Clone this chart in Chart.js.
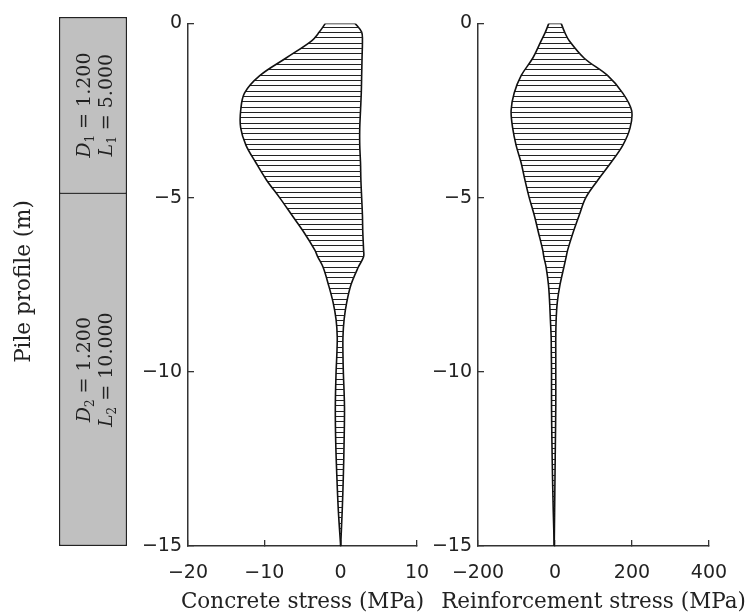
<!DOCTYPE html>
<html>
<head>
<meta charset="utf-8">
<title>Pile stress profile</title>
<script src="https://cdn.jsdelivr.net/npm/chart.js@4.4.1/dist/chart.umd.min.js"></script>
<style>
  html, body { margin: 0; padding: 0; background: #fff; }
  #wrap { position: relative; width: 753px; height: 615px; overflow: hidden; }
  canvas { position: absolute; top: 0; }
</style>
</head>
<body>
<div id="wrap">
  <canvas id="pileChart" width="150" height="615" style="left:0"></canvas>
  <canvas id="concreteChart" width="300" height="615" style="left:140px"></canvas>
  <canvas id="rebarChart" width="323" height="615" style="left:430px"></canvas>
</div>
<script>
// Pile segments (m)
const segmentTop = [0, -5];
const segmentBottom = [-5, -15];
const segmentDiam = ['1.200', '1.200'];

// Depth along the pile (m)
const depth = [0, -0.25, -0.5, -1, -1.5, -2, -2.5, -3, -3.5, -4, -4.5, -5, -5.5, -6,
               -6.5, -6.7, -7, -7.5, -8, -8.5, -9, -9.5, -10, -11, -12, -13, -14, -15];

// Concrete stress envelope (MPa)
const concreteMin = [-2.0, -2.8, -3.8, -7.2, -10.6, -12.6, -13.1, -13.1, -12.4, -11.1, -9.7, -8.0, -6.4, -4.8,
                     -3.4, -3.0, -2.3, -1.6, -1.0, -0.6, -0.45, -0.5, -0.6, -0.7, -0.65, -0.5, -0.3, 0];
const concreteMax = [1.9, 2.75, 2.85, 2.8, 2.75, 2.7, 2.6, 2.5, 2.5, 2.6, 2.65, 2.75, 2.85, 2.9,
                     3.0, 3.0, 2.3, 1.35, 0.8, 0.45, 0.3, 0.3, 0.35, 0.5, 0.45, 0.35, 0.2, 0];

// Reinforcement stress envelope (MPa)
const rebarMin = [-16, -25, -36, -58, -88, -106, -114, -110, -101, -88, -78, -67, -54, -43,
                  -32, -29, -23, -17, -14, -12, -10, -9.5, -9, -9, -8, -6.5, -4.5, -2];
const rebarMax = [16, 25, 37, 76, 137, 176, 199, 195, 176, 145, 111, 80, 63, 47,
                  33, 29, 23, 13, 6, 3, 2, 2, 2, 2, 1, 0, -1, -2];

// Tick settings
const concreteTicks = { min: -20, max: 10, step: 10 };
const rebarTicks = { min: -200, max: 400, step: 200 };
const depthTicks = { min: -15, max: 0, step: 5 };

Chart.defaults.animation = false;
Chart.defaults.color = '#222';

const tickFont = { family: 'DejaVu Sans', size: 19 };
const titleFont = { family: 'DejaVu Serif', size: 21.5 };
const axisColor = '#333';

function fmt(v) {
    return v < 0 ? '\u2212' + Math.abs(v) : String(v);
}

// Horizontal hatching used as the fill between the two envelopes
function makeHatch(canvas) {
    const c = document.createElement('canvas');
    c.width = 8;
    c.height = 16;
    const g = c.getContext('2d');
    g.fillStyle = '#222';
    [0, 5, 11].forEach(y => g.fillRect(0, y, 8, 1));
    return canvas.getContext('2d').createPattern(c, 'repeat');
}

// Axis title under the x axis, drawn without the scale's width limit
const bottomTitle = {
    id: 'bottomTitle',
    afterDraw(chart, args, opts) {
        const ctx = chart.ctx;
        const area = chart.chartArea;
        ctx.save();
        ctx.font = titleFont.size + 'px "' + titleFont.family + '"';
        ctx.fillStyle = '#222';
        ctx.textAlign = 'center';
        ctx.textBaseline = 'middle';
        ctx.fillText(opts.text, (area.left + area.right) / 2, chart.height - 13);
        ctx.restore();
    }
};

function stressAxis(t) {
    return {
        type: 'linear',
        min: t.min,
        max: t.max,
        ticks: { stepSize: t.step, padding: 22, font: tickFont, color: '#222', callback: fmt },
        grid: { drawOnChartArea: false, tickLength: -6, color: axisColor, lineWidth: 1.3 },
        border: { color: axisColor, width: 1.5 },
        afterFit: s => {
            s.height = 69;
            s.paddingLeft = 0;
            s.paddingRight = 0;
        }
    };
}

function depthAxis() {
    return {
        type: 'linear',
        min: depthTicks.min,
        max: depthTicks.max,
        ticks: { stepSize: depthTicks.step, padding: 12, font: tickFont, color: '#222', callback: fmt },
        grid: { drawOnChartArea: false, tickLength: -6, color: axisColor, lineWidth: 1.3 },
        border: { color: axisColor, width: 1.5 },
        afterFit: s => { s.width = 48; }
    };
}

function envelopeDatasets(minVals, maxVals, pattern) {
    const line = {
        borderColor: '#111',
        borderWidth: 1.6,
        pointRadius: 0,
        tension: 0.35
    };
    return [
        Object.assign({
            data: depth.map((d, i) => ({ x: minVals[i], y: d })),
            fill: '+1',
            backgroundColor: pattern
        }, line),
        Object.assign({
            data: depth.map((d, i) => ({ x: maxVals[i], y: d })),
            fill: false
        }, line),
        // flat cap at the pile head
        Object.assign({}, line, {
            data: [{ x: minVals[0], y: depth[0] }, { x: maxVals[0], y: depth[0] }],
            fill: false,
            tension: 0
        })
    ];
}

function stressChart(id, minVals, maxVals, ticks, title, rightPad) {
    const canvas = document.getElementById(id);
    return new Chart(canvas, {
        type: 'line',
        data: { datasets: envelopeDatasets(minVals, maxVals, makeHatch(canvas)) },
        options: {
            responsive: false,
            indexAxis: 'y',
            layout: { padding: { top: 17, right: rightPad, bottom: 0, left: 0 } },
            plugins: {
                legend: { display: false },
                tooltip: { enabled: false },
                bottomTitle: { text: title }
            },
            scales: {
                x: stressAxis(ticks),
                y: depthAxis()
            }
        },
        plugins: [bottomTitle]
    });
}

// Writes D and L of each pile segment, rotated, inside its bar
const pileText = {
    id: 'pileText',
    afterDatasetsDraw(chart) {
        const ctx = chart.ctx;
        chart.data.datasets.forEach((ds, i) => {
            const bar = chart.getDatasetMeta(i).data[0];
            const cx = bar.x;
            const cy = (bar.y + bar.base) / 2;
            const len = (segmentTop[i] - segmentBottom[i]).toFixed(3);
            ctx.save();
            ctx.translate(cx, cy);
            ctx.rotate(-Math.PI / 2);
            drawRich(ctx, 'D', String(i + 1), ' = ' + segmentDiam[i], -3);
            drawRich(ctx, 'L', String(i + 1), ' = ' + len, 19);
            ctx.restore();
        });
    }
};

function drawRich(ctx, letter, sub, rest, baseY) {
    const fMain = '19px "DejaVu Serif"';
    const fItal = 'italic 19px "DejaVu Serif"';
    const fSub = '12px "DejaVu Serif"';
    ctx.font = fItal;
    const wL = ctx.measureText(letter).width;
    ctx.font = fSub;
    const wS = ctx.measureText(sub).width;
    ctx.font = fMain;
    const wR = ctx.measureText(rest).width;
    let x = -(wL + wS + wR) / 2;
    ctx.fillStyle = '#222';
    ctx.textBaseline = 'alphabetic';
    ctx.textAlign = 'left';
    ctx.font = fItal;
    ctx.fillText(letter, x, baseY);
    x += wL;
    ctx.font = fSub;
    ctx.fillText(sub, x, baseY + 4);
    x += wS;
    ctx.font = fMain;
    ctx.fillText(rest, x, baseY);
}

new Chart(document.getElementById('pileChart'), {
    type: 'bar',
    data: {
        labels: ['pile'],
        datasets: segmentTop.map((top, i) => ({
            data: [[top, segmentBottom[i]]],
            backgroundColor: '#c0c0c0',
            borderColor: '#222',
            // thinner edge where the two segments meet
            borderWidth: i === 0
                ? { top: 1.5, right: 1.5, bottom: 0.8, left: 1.5 }
                : { top: 0.8, right: 1.5, bottom: 1.5, left: 1.5 },
            borderSkipped: false,
            grouped: false,
            barPercentage: 1,
            categoryPercentage: 1
        }))
    },
    options: {
        responsive: false,
        layout: { padding: { top: 17, right: 23, bottom: 69, left: 0 } },
        plugins: { legend: { display: false }, tooltip: { enabled: false } },
        scales: {
            x: { display: false },
            y: {
                type: 'linear',
                min: depthTicks.min,
                max: depthTicks.max,
                ticks: { display: false },
                grid: { display: false },
                border: { display: false },
                title: { display: true, text: 'Pile profile (m)', font: titleFont, color: '#222', padding: { top: 12, bottom: 0 } },
                afterFit: s => { s.width = 59; }
            }
        }
    },
    plugins: [pileText]
});

stressChart('concreteChart', concreteMin, concreteMax, concreteTicks, 'Concrete stress (MPa)', 23);
stressChart('rebarChart', rebarMin, rebarMax, rebarTicks, 'Reinforcement stress (MPa)', 44);
</script>
</body>
</html>
